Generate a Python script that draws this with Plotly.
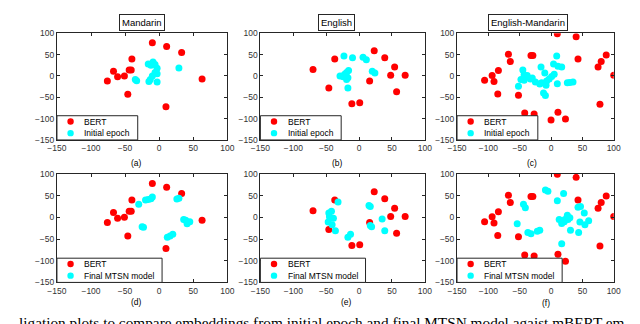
import plotly.graph_objects as go

# ---- data ----
# BERT embeddings (same in initial / final rows)
bert_man_x = [-10, 11, 33, -40, -67, -76, -61, -51, -44, -41, -46, 63, 10]
bert_man_y = [78, 69, 55, 40, 11, -12, -2, 0, 14, 14, -43, -7, -72]
bert_eng_x = [23, 39, -37, -70, 54, 48, 70, 16, -46, 57, -11, 1]
bert_eng_y = [59, 43, 40, 15, 21, 2, 2, -12, -28, -37, -65, -63]
bert_mix_x = [10, 40, -68, -32, -29, -65, 43, 88, 80, 75, 100, -84, -94, -91, -106,
              -85, -52, 78, -42, -27, 11, 0, 23]
bert_mix_y = [99, 92, 51, 48, 48, 34, 40, 49, 34, 21, 2, 13, 1, -13, -10,
              -42, -45, -66, -87, -89, -85, -103, -101]

# initial epoch
init_man_x = [-16, -9, -6, -12, -3, -6, -3, -10, -13, -15, -3, 29, -35, -33]
init_man_y = [28, 33, 27, 25, 18, 8, 5, 0, -8, -13, -14, 19, -8, -11]
init_eng_x = [-23, -10, 6, 11, 20, 24, -16, -19, -22, -29, -24, -17, -19, -17]
init_eng_y = [47, 43, 44, 38, 11, 7, 13, 8, 4, 0, -2, -4, -8, -28]
init_mix_x = [9, 4, 11, 17, -16, -45, -43, -38, -48, -43, -33, -30, -52, -25, -18,
              -15, -10, -7, -3, 1, 5, -8, -12, -9, 10, 26, 30, 35]
init_mix_y = [47, 28, 23, 21, 21, 14, 3, 1, -8, -10, -7, -5, -24, -14, -19,
              -16, 7, -12, -7, -1, 4, -22, -40, -46, -18, -16, -15, -14]

# final MTSN model
final_man_x = [-30, -20, -16, -12, -10, 26, 29, -25, -23, 36, 39, 41, 45, 12, 16, 20]
final_man_y = [30, 40, 41, 43, 47, 42, 44, -22, -23, -5, -7, -15, -10, -46, -43, -39]
final_eng_x = [-32, -46, -42, -45, -39, -47, -41, -36, -17, -13, 15, 17, 17, 19, 35, 39]
final_eng_y = [35, 10, 14, 1, -2, -11, -17, -31, -46, -39, 27, 25, -19, -22, -4, -31]
final_mix_x = [-9, -5, 20, 10, -44, -41, 43, 47, 53, 13, 26, 30, 27, 22, 17, 21,
               46, 60, 54, -54, -37, -32, -22, -18, 31, 44, 17]
final_mix_y = [63, 60, 55, 38, 30, 22, 23, 25, 10, -5, 5, -1, -5, -5, -14, -10,
               -11, -8, -17, -15, -35, -38, -32, -30, -30, -35, -61]

titles = ['Mandarin', 'English', 'English-Mandarin']
sub_labels = ['(a)', '(b)', '(c)', '(d)', '(e)', '(f)']
legend_names = ['Initial epoch', 'Final MTSN model']

W, H = 640, 324


def px(x):
    return x / W


def py(y):
    return 1 - y / H


cols = [(40, 215), (249, 418), (451, 612)]
rows = [(21, 131), (166, 278)]
title_x = [127, 327, 524]
label_pos = [[(122, 155), (328, 155), (528, 155)],
             [(122, 298), (337, 298), (542, 299)]]

bert = [(bert_man_x, bert_man_y), (bert_eng_x, bert_eng_y), (bert_mix_x, bert_mix_y)]
other = [[(init_man_x, init_man_y), (init_eng_x, init_eng_y), (init_mix_x, init_mix_y)],
         [(final_man_x, final_man_y), (final_eng_x, final_eng_y), (final_mix_x, final_mix_y)]]

RED = '#FF0000'
CYAN = '#00FFFF'
font = 'Liberation Sans, Arial, sans-serif'

fig = go.Figure()
shapes = []
annotations = []
layout_axes = {}

n = 0
for r in range(2):
    for c in range(3):
        n += 1
        xa = 'x' if n == 1 else f'x{n}'
        ya = 'y' if n == 1 else f'y{n}'
        for (xs, ys), col in [(bert[c], RED), (other[r][c], CYAN)]:
            fig.add_trace(go.Scatter(
                x=xs, y=ys, mode='markers', xaxis=xa, yaxis=ya,
                marker=dict(color=col, size=7, line=dict(width=0)),
                showlegend=False, hoverinfo='skip'))
        x0, x1 = cols[c]
        y0, y1 = rows[r]
        axis_style = dict(
            range=[-150, 100], dtick=50, tick0=-150,
            showgrid=False, zeroline=False,
            showline=True, linecolor='#262626', linewidth=1, mirror='ticks',
            ticks='inside', ticklen=3, tickcolor='#262626',
            tickfont=dict(family=font, size=8.5, color='#333333'),
        )
        layout_axes['xaxis' if n == 1 else f'xaxis{n}'] = dict(
            axis_style, domain=[px(x0), px(x1)], anchor=ya)
        layout_axes['yaxis' if n == 1 else f'yaxis{n}'] = dict(
            axis_style, domain=[py(y1), py(y0)], anchor=xa)

        # manual legend box (bottom-left inside the axes)
        lw = 83 if r == 0 else 108
        shapes.append(dict(type='rect', xref='paper', yref='paper',
                           x0=px(x0), x1=px(x0 + lw), y0=py(y1), y1=py(y1 - 25),
                           line=dict(color='#262626', width=1), fillcolor='white'))
        for k, (name, col) in enumerate([('BERT', RED), (legend_names[r], CYAN)]):
            cy = y1 - 19 + 12 * k
            cx = x0 + 14
            shapes.append(dict(type='circle', xref='paper', yref='paper',
                               x0=px(cx - 3.3), x1=px(cx + 3.3),
                               y0=py(cy + 3.3), y1=py(cy - 3.3),
                               line=dict(width=0), fillcolor=col))
            annotations.append(dict(text=name, xref='paper', yref='paper',
                                    x=px(x0 + 26), y=py(cy), xanchor='left', yanchor='middle',
                                    showarrow=False, font=dict(family=font, size=8.5, color='black')))

        lx, ly = label_pos[r][c]
        annotations.append(dict(text=sub_labels[n - 1], xref='paper', yref='paper',
                                x=px(lx), y=py(ly), xanchor='center', yanchor='middle',
                                showarrow=False, font=dict(family=font, size=8.5, color='black')))

for c in range(3):
    annotations.append(dict(text=titles[c], xref='paper', yref='paper',
                            x=px(title_x[c]), y=py(9.5), xanchor='center', yanchor='middle',
                            showarrow=False, bordercolor='#262626', borderwidth=1, borderpad=2,
                            bgcolor='white', font=dict(family=font, size=9.5, color='black')))

# figure caption, cut off by the bottom edge as in the source image
annotations.append(dict(
    text='ligation plots to compare embeddings from initial epoch and final MTSN model agaist mBERT em',
    xref='paper', yref='paper', x=px(-1), y=py(309), xanchor='left', yanchor='top',
    showarrow=False, font=dict(family='Liberation Serif, serif', size=15.3, color='black')))

fig.update_layout(
    width=W, height=H,
    margin=dict(l=0, r=0, t=0, b=0),
    paper_bgcolor='white', plot_bgcolor='white',
    shapes=shapes, annotations=annotations,
    **layout_axes,
)

fig.write_html('out.html')
